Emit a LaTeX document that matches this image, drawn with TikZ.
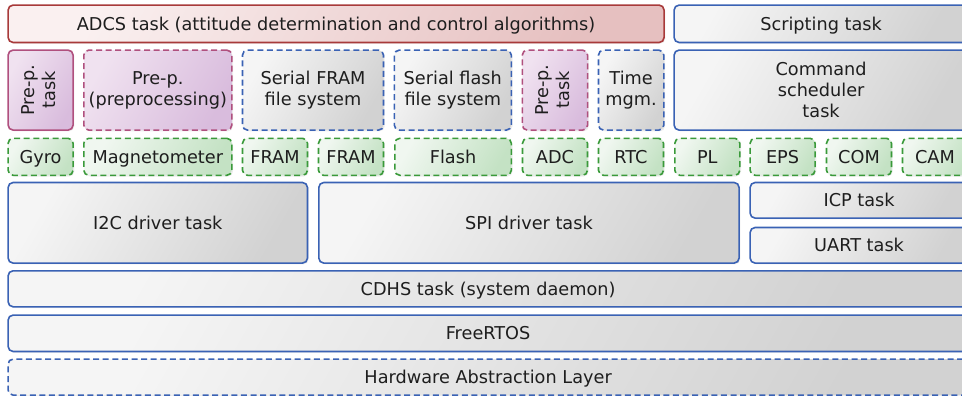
\documentclass[tikz,border=0pt]{standalone}
\usepackage{fontspec}
\setmainfont{DejaVu Sans}
\usetikzlibrary{shadows}
\definecolor{redb}{HTML}{A83A3A}
\definecolor{redl}{HTML}{FAF0F0}
\definecolor{redd}{HTML}{E6C0C0}
\definecolor{pinkb}{HTML}{B0507E}
\definecolor{pinkl}{HTML}{F0E2F0}
\definecolor{pinkd}{HTML}{D9BCDD}
\definecolor{blueb}{HTML}{3A62B4}
\definecolor{grayl}{HTML}{F5F5F5}
\definecolor{grayd}{HTML}{D2D2D2}
\definecolor{greenb}{HTML}{3A9A3A}
\definecolor{greenl}{HTML}{F0F7F0}
\definecolor{greend}{HTML}{C4E2C4}
\definecolor{txt}{HTML}{1E1E1E}
\newcommand{\rotlab}[2]{\rotatebox{90}{\begin{tabular}{@{}c@{}}#1\\#2\end{tabular}}}
\tikzset{
  base/.style={draw, rounded corners=5pt, line width=1.6pt, inner sep=0pt,
    align=center, anchor=north west, text=txt,
    font=\fontsize{17.7}{20.7}\selectfont,
    drop shadow={opacity=0.15, shadow xshift=1.2pt, shadow yshift=-1.2pt}},
  one/.style={text height=14pt, text depth=1.2pt},
  sz/.style 2 args={minimum width=#1pt, minimum height=#2pt},
  dsh/.style={dash pattern=on 6pt off 3.6pt},
  redbox/.style={base, one, draw=redb, top color=redl, bottom color=redd, shading angle=60},
  pinkbox/.style={base, draw=pinkb, top color=pinkl, bottom color=pinkd, shading angle=60},
  bluebox/.style={base, draw=blueb, top color=grayl, bottom color=grayd, shading angle=60},
  greenbox/.style={base, one, dsh, draw=greenb, top color=greenl, bottom color=greend, shading angle=60},
}
\begin{document}
\begin{tikzpicture}[x=1pt, y=-1pt]
\useasboundingbox (0,0) rectangle (962,396);
\clip (0,0) rectangle (962,396);
% row 1
\node[redbox, sz={656}{37.4}] (adcs) at (7.3,4.3) {ADCS task (attitude determination and control algorithms)};
\node[bluebox, one, sz={294}{37.4}] (script) at (673.3,4.3) {Scripting task};
% row 2
\node[pinkbox, sz={65}{80}] (prep1) at (7.3,49.3) {\rotlab{Pre-p.}{task}};
\node[pinkbox, dsh, sz={148}{80}] (prep2) at (83,49.3) {Pre-p.\\(preprocessing)};
\node[bluebox, dsh, sz={141}{80}] (sfram) at (241.7,49.3) {Serial FRAM\\file system};
\node[bluebox, dsh, sz={117}{80}] (sflash) at (393.5,49.3) {Serial flash\\file system};
\node[pinkbox, dsh, sz={65.3}{80}] (prep3) at (521.5,49.3) {\rotlab{Pre-p.}{task}};
\node[bluebox, dsh, sz={65.3}{80}] (time) at (597.7,49.3) {Time\\mgm.};
\node[bluebox, sz={294}{80}] (cmd) at (673.3,49.3) {Command\\scheduler\\task};
% row 3
\node[greenbox, sz={65}{37}] (gyro) at (7.3,137.5) {Gyro};
\node[greenbox, sz={148}{37}] (mag) at (83,137.5) {Magnetometer};
\node[greenbox, sz={65}{37}] (fram1) at (241.7,137.5) {FRAM};
\node[greenbox, sz={65}{37}] (fram2) at (317.7,137.5) {FRAM};
\node[greenbox, sz={116.5}{37}] (flash) at (394,137.5) {Flash};
\node[greenbox, sz={65}{37}] (adc) at (521.7,137.5) {ADC};
\node[greenbox, sz={65}{37}] (rtc) at (597.7,137.5) {RTC};
\node[greenbox, sz={65}{37}] (pl) at (674,137.5) {PL};
\node[greenbox, sz={65}{37}] (eps) at (749.3,137.5) {EPS};
\node[greenbox, sz={65}{37}] (com) at (825.7,137.5) {COM};
\node[greenbox, sz={65}{37}] (cam) at (901.7,137.5) {CAM};
% row 4
\node[bluebox, one, sz={299.4}{80.6}] (i2c) at (7.3,181.7) {I2C driver task};
\node[bluebox, one, sz={420.3}{80.6}] (spi) at (318,181.7) {SPI driver task};
\node[bluebox, one, sz={218}{35.6}] (icp) at (749.3,181.7) {ICP task};
\node[bluebox, one, sz={218}{35.6}] (uart) at (749.3,226.7) {UART task};
% bottom layers
\node[bluebox, one, sz={960}{36}] (cdhs) at (7.3,270) {CDHS task (system daemon)};
\node[bluebox, one, sz={960}{36.4}] (rtos) at (7.3,314.3) {FreeRTOS};
\node[bluebox, one, dsh, sz={960}{36}] (hal) at (7.3,358.3) {Hardware Abstraction Layer};
\end{tikzpicture}
\end{document}
